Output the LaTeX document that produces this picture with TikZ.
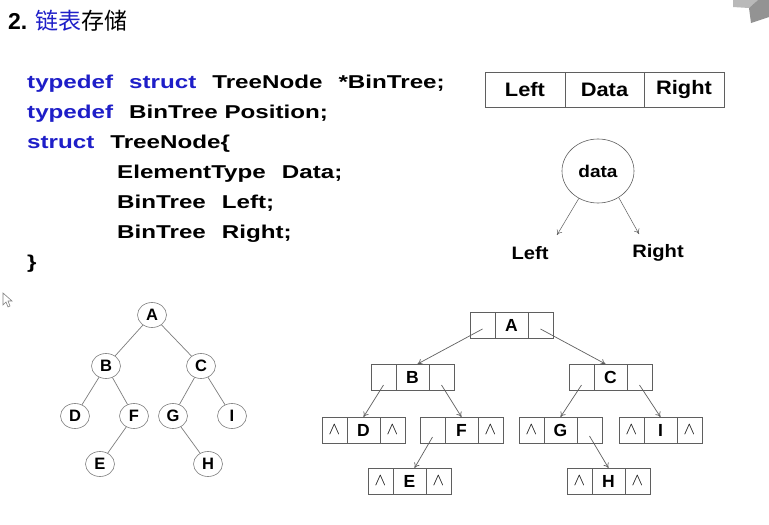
\documentclass[tikz,border=0pt]{standalone}
\usepackage{fontspec}
\setmainfont{Liberation Sans}
\newfontfamily\codefont[FakeStretch=1.3]{Liberation Sans}
\newfontfamily\widefont[FakeStretch=1.12]{Liberation Sans}
\newfontfamily\cjkfont{Noto Sans CJK SC}
\usepackage{tikz}
\usetikzlibrary{positioning,shapes.geometric,arrows.meta}
\usepackage{xcolor}
\definecolor{kwblue}{RGB}{30,30,200}
\definecolor{linegray}{RGB}{95,95,95}
\definecolor{edgegray}{RGB}{125,125,125}

\newcommand{\kw}[1]{{\color{kwblue}#1}}
\newcommand{\gap}{\hspace{16pt}}
\newcommand{\nullmark}{\raisebox{-4pt}{$\wedge$}}
% nodo enlazado: nombre, esquina, izq, dato, der
\newcommand{\recnode}[5]{%
  \node[cell,anchor=north west] (#1l) at (#2) {#3};
  \node[datacell,right=0pt of #1l] (#1d) {#4};
  \node[cell,right=0pt of #1d] (#1r) {#5};}

\begin{document}
\begin{tikzpicture}[x=1pt,y=-1pt,
  code/.style={anchor=base west,inner sep=0pt,font=\codefont\bfseries\fontsize{18.6}{20}\selectfont},
  tabcell/.style={draw=linegray,line width=0.7pt,minimum height=35pt,inner sep=0pt,outer sep=0pt,font=\widefont\bfseries\fontsize{19.5}{21}\selectfont},
  cell/.style={draw=linegray,line width=0.7pt,minimum width=25pt,minimum height=26pt,inner sep=0pt,outer sep=0pt,font=\fontsize{17}{18}\selectfont},
  datacell/.style={cell,minimum width=33pt,font=\bfseries\fontsize{17.5}{20}\selectfont},
  tnode/.style={draw=edgegray,line width=0.6pt,ellipse,minimum width=29pt,minimum height=25pt,inner sep=0pt,font=\bfseries\fontsize{16.5}{18}\selectfont},
  tedge/.style={draw=edgegray,line width=0.7pt},
  link/.style={draw=linegray,line width=0.7pt,-{To[length=5pt,width=6pt]}}]
\fill[white] (0,0) rectangle (769,525);
\useasboundingbox (0,0) rectangle (769,525);
% icono y cursor
\fill[gray!55] (733,0) -- (758,0) -- (749,8) -- (733,7) -- cycle;
\fill[gray!85] (749,8) -- (758,0) -- (769,0) -- (769,17) -- (751,23) -- cycle;
\draw[gray,line width=0.6pt] (3,293) -- (3,305) -- (6,302) -- (8,307) -- (10,306) -- (8,301) -- (12,301) -- cycle;
% titulo
\node[anchor=base west,inner sep=0pt] (title) at (8,29)
  {\fontsize{23}{24}\selectfont\textbf{2.} {\cjkfont\color{kwblue}链表}{\cjkfont 存储}};
% codigo
\node[code] (c1) at (27,88) {\kw{typedef}\gap\kw{struct}\gap TreeNode\gap*BinTree;};
\node[code] (c2) at (27,118) {\kw{typedef}\gap BinTree Position;};
\node[code] (c3) at (27,148) {\kw{struct}\gap TreeNode\{};
\node[code] (c4) at (117,178) {ElementType\gap Data;};
\node[code] (c5) at (117,208) {BinTree\gap Left;};
\node[code] (c6) at (117,238) {BinTree\gap Right;};
\node[code] (c7) at (27,268) {\}};
% tabla
\node[tabcell,minimum width=80pt,anchor=north west] (tleft) at (485,72) {Left};
\node[tabcell,minimum width=79pt,right=0pt of tleft] (tdata) {Data};
\node[tabcell,minimum width=80pt,right=0pt of tdata] (tright) {Right};
% nodo data
\node[draw=linegray,line width=0.6pt,ellipse,minimum width=72pt,minimum height=64pt,inner sep=0pt,
  font=\widefont\bfseries\fontsize{17}{19}\selectfont] (data) at (598,171) {data};
\coordinate (ldir) at (557,235);
\coordinate (rdir) at (639,234);
\draw[link,line width=0.5pt] (data.-125) -- (ldir);
\draw[link,line width=0.5pt] (data.-52) -- (rdir);
\node[font=\widefont\bfseries\fontsize{18}{20}\selectfont] (lleft) at (530,253) {Left};
\node[font=\widefont\bfseries\fontsize{18}{20}\selectfont] (lright) at (658,253) {Right};
% arbol
\node[tnode] (A) at (152,315) {A};
\node[tnode] (B) at (106,366) {B};
\node[tnode] (C) at (201,366) {C};
\node[tnode] (D) at (75,416) {D};
\node[tnode] (F) at (134,416) {F};
\node[tnode] (G) at (173,416) {G};
\node[tnode] (I) at (232,416) {I};
\node[tnode] (E) at (100,464) {E};
\node[tnode] (H) at (208,464) {H};
\draw[tedge] (A) -- (B);
\draw[tedge] (A) -- (C);
\draw[tedge] (B) -- (D);
\draw[tedge] (B) -- (F);
\draw[tedge] (F) -- (E);
\draw[tedge] (C) -- (G);
\draw[tedge] (C) -- (I);
\draw[tedge] (G) -- (H);
% lista enlazada
\recnode{a}{470,312}{}{A}{}
\recnode{b}{371,364}{}{B}{}
\recnode{c}{569,364}{}{C}{}
\recnode{d}{322,417}{\nullmark}{D}{\nullmark}
\recnode{f}{420,417}{}{F}{\nullmark}
\recnode{g}{519,417}{\nullmark}{G}{}
\recnode{i}{619,417}{\nullmark}{I}{\nullmark}
\recnode{e}{368,468}{\nullmark}{E}{\nullmark}
\recnode{h}{567,468}{\nullmark}{H}{\nullmark}
\draw[link] ([yshift=-4pt]al.center) -- ([xshift=5pt]bd.north);
\draw[link] ([yshift=-4pt]ar.center) -- ([xshift=-5pt]cd.north);
\draw[link] ([yshift=-8pt]bl.center) -- (dd.north);
\draw[link] ([yshift=-8pt]br.center) -- (fd.north);
\draw[link] ([yshift=-7pt]fl.center) -- ([xshift=5pt]ed.north);
\draw[link] ([yshift=-8pt]cl.center) -- (gd.north);
\draw[link] ([yshift=-8pt]cr.center) -- (id.north);
\draw[link] ([yshift=-6pt]gr.center) -- (hd.north);
\end{tikzpicture}
\end{document}
